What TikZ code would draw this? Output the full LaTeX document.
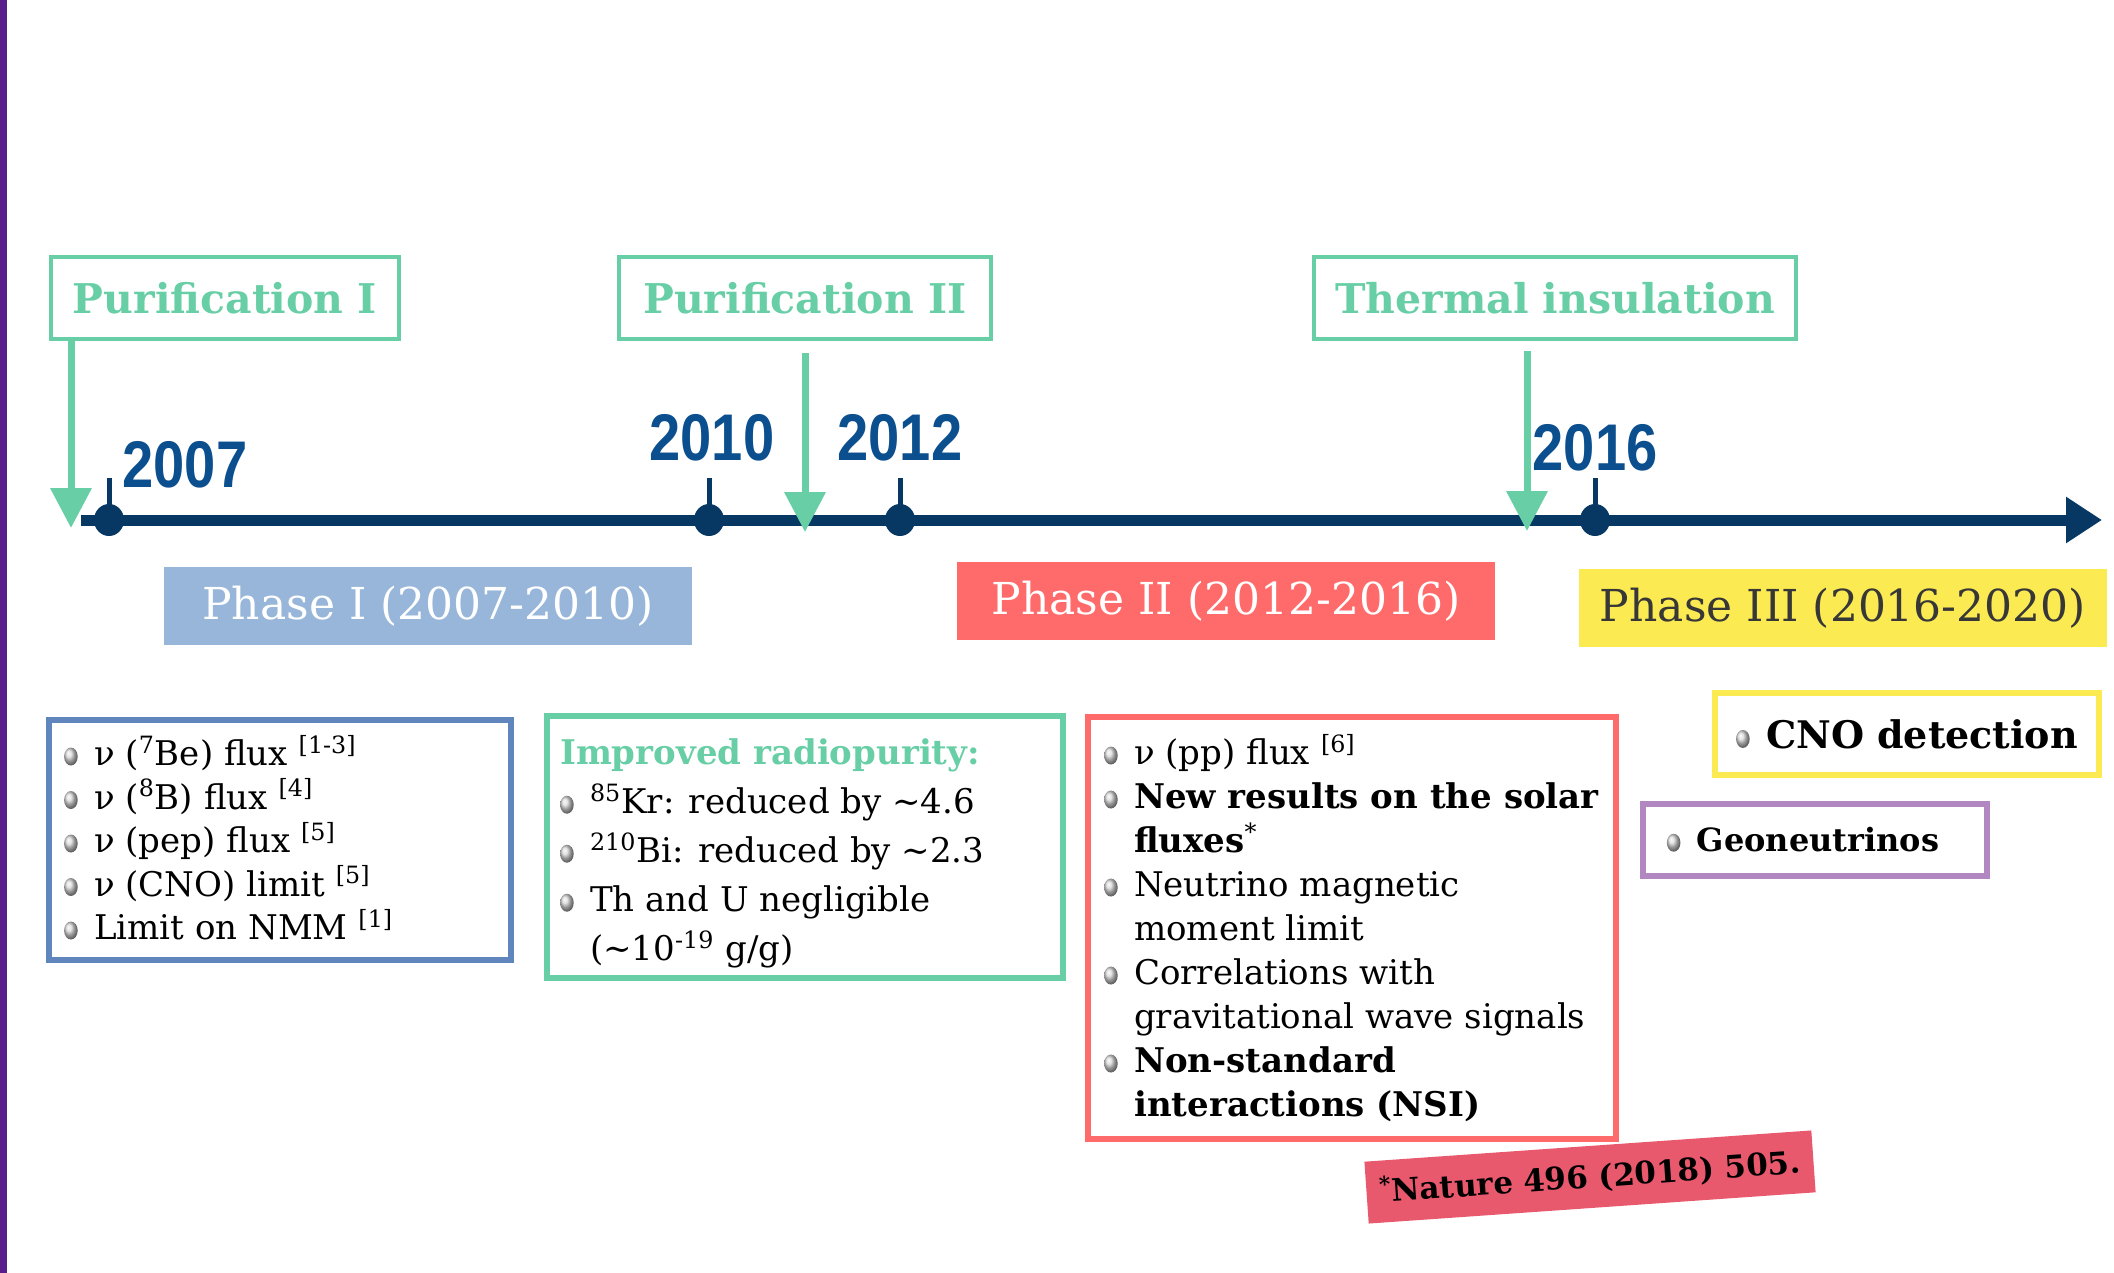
\documentclass[tikz,border=0pt]{standalone}
\usepackage{fontspec}
\setmainfont{DejaVu Serif}
\newfontfamily\yearfont[FakeStretch=0.85]{Liberation Sans}
\usepackage{tikz}
\usetikzlibrary{positioning}
\usetikzlibrary{arrows.meta}

\definecolor{navy}{RGB}{6,56,99}
\definecolor{yearblue}{RGB}{11,79,142}
\definecolor{mint}{RGB}{104,206,166}
\definecolor{phaseblue}{RGB}{151,182,217}
\definecolor{phasered}{RGB}{255,107,107}
\definecolor{phaseyellow}{RGB}{251,234,82}
\definecolor{boxblue}{RGB}{94,134,189}
\definecolor{geopurple}{RGB}{178,134,192}
\definecolor{edgepurple}{RGB}{88,28,140}
\definecolor{naturered}{RGB}{232,89,109}
\definecolor{phasegray}{RGB}{55,55,55}

\newcommand{\blt}{\makebox[15pt][l]{\tikz[baseline=0pt]\shade[ball color=gray!30] (3.4pt,4.6pt) ellipse (3.4pt and 4.5pt);}}

\tikzset{
  purbox/.style={draw=mint, line width=2pt, minimum height=41pt, text=mint,
    font=\bfseries\fontsize{20.5}{23}\selectfont},
  phase/.style={minimum height=39pt, font=\fontsize{22}{24}\selectfont},
  frame/.style={line width=3.3pt, inner sep=0pt},
  listtext/.style={align=left, inner sep=0pt},
  grarrow/.style={mint, line width=3.5pt, -{Triangle[width=20pt,length=20pt]}},
  axis/.style={navy, line width=5.5pt, -{Triangle[width=22pt,length=18pt]}},
  yr/.style={text=yearblue, font=\yearfont\bfseries\fontsize{33}{35}\selectfont},
}

\begin{document}
\begin{tikzpicture}[x=0.5pt,y=-0.5pt]
\useasboundingbox (0,0) rectangle (2114,1273);
\fill[edgepurple] (0,0) rectangle (7,1273);

% timeline
\coordinate (axs) at (81,520);
\coordinate (axe) at (2102,520);
\draw[axis] (axs) -- (axe);
\foreach \x/\lx/\ly/\yr in {109/185/465/2007, 709/712/438/2010, 900/900/438/2012, 1595/1595/448/2016} {
  \draw[navy, line width=2.5pt] (\x,520) -- (\x,478);
  \fill[navy] (\x,520) ellipse (7.5pt and 8pt);
  \node[yr] (y\yr) at (\lx,\ly) {\yr};
}

% purification steps
\node[purbox, minimum width=174pt] (pur1) at (225,298) {Purification I};
\node[purbox, minimum width=186pt] (pur2) at (805,298) {Purification II};
\node[purbox, minimum width=241pt] (therm) at (1555,298) {Thermal insulation};
\coordinate (a1) at (71,528);
\coordinate (a2) at (805,532);
\coordinate (a3) at (1527,531);
\draw[grarrow] (pur1.south -| a1) -- (a1);
\draw[grarrow] ([yshift=-6pt]pur2.south) -- (a2);
\draw[grarrow] ([yshift=-5pt]therm.south -| a3) -- (a3);

% phases
\node[phase, fill=phaseblue, text=white, minimum width=264pt] (ph1) at (428,606) {Phase I (2007-2010)};
\node[phase, fill=phasered, text=white, minimum width=269pt] (ph2) at (1226,601) {Phase II (2012-2016)};
\node[phase, fill=phaseyellow, text=phasegray, minimum width=264pt] (ph3) at (1843,608) {Phase III (2016-2020)};

% results
\node[frame, draw=boxblue, minimum width=231pt, minimum height=120pt] (b1) at (280,840) {};
\node[listtext, below right=9pt and 9pt of b1.north west, font=\fontsize{17}{21.75}\selectfont] (t1) {%
\blt ν (\textsuperscript{7}Be) flux \textsuperscript{[1-3]}\\
\blt ν (\textsuperscript{8}B) flux \textsuperscript{[4]}\\
\blt ν (pep) flux \textsuperscript{[5]}\\
\blt ν (CNO) limit \textsuperscript{[5]}\\
\blt Limit on NMM \textsuperscript{[1]}};

\node[frame, draw=mint, minimum width=258pt, minimum height=131pt] (b2) at (805,847) {};
\node[listtext, below right=13pt and 8pt of b2.north west, font=\fontsize{17}{24.5}\selectfont] (t2) {%
{\color{mint}\bfseries Improved radiopurity:}\\
\blt\textsuperscript{85}Kr: reduced by ∼4.6\\
\blt\textsuperscript{210}Bi: reduced by ∼2.3\\
\blt Th and U negligible\\
\hspace*{15pt}(∼10\textsuperscript{-19} g/g)};

\node[frame, draw=phasered, minimum width=264pt, minimum height=211pt] (b3) at (1352,928) {};
\node[listtext, below right=10pt and 9.5pt of b3.north west, font=\fontsize{17}{22}\selectfont] (t3) {%
\blt ν (pp) flux \textsuperscript{[6]}\\
\blt\textbf{New results on the solar}\\
\hspace*{15pt}\textbf{fluxes}\textsuperscript{*}\\
\blt Neutrino magnetic\\
\hspace*{15pt}moment limit\\
\blt Correlations with\\
\hspace*{15pt}gravitational wave signals\\
\blt\textbf{Non-standard}\\
\hspace*{15pt}\textbf{interactions (NSI)}};

\node[frame, draw=phaseyellow, minimum width=192pt, minimum height=41pt, font=\bfseries\fontsize{19}{22}\selectfont] (cno) at (1907,734) {\blt CNO detection};
\node[frame, draw=geopurple, minimum width=172pt, minimum height=36pt, font=\bfseries\fontsize{16}{20}\selectfont] (geo) at (1815,840) {\blt Geoneutrinos\hspace*{12pt}};

\node[fill=naturered, rotate=4, minimum width=224pt, minimum height=31pt, font=\bfseries\fontsize{15.5}{18}\selectfont] (nat) at (1590,1177) {\textsuperscript{*}Nature 496 (2018) 505.};
\end{tikzpicture}
\end{document}
